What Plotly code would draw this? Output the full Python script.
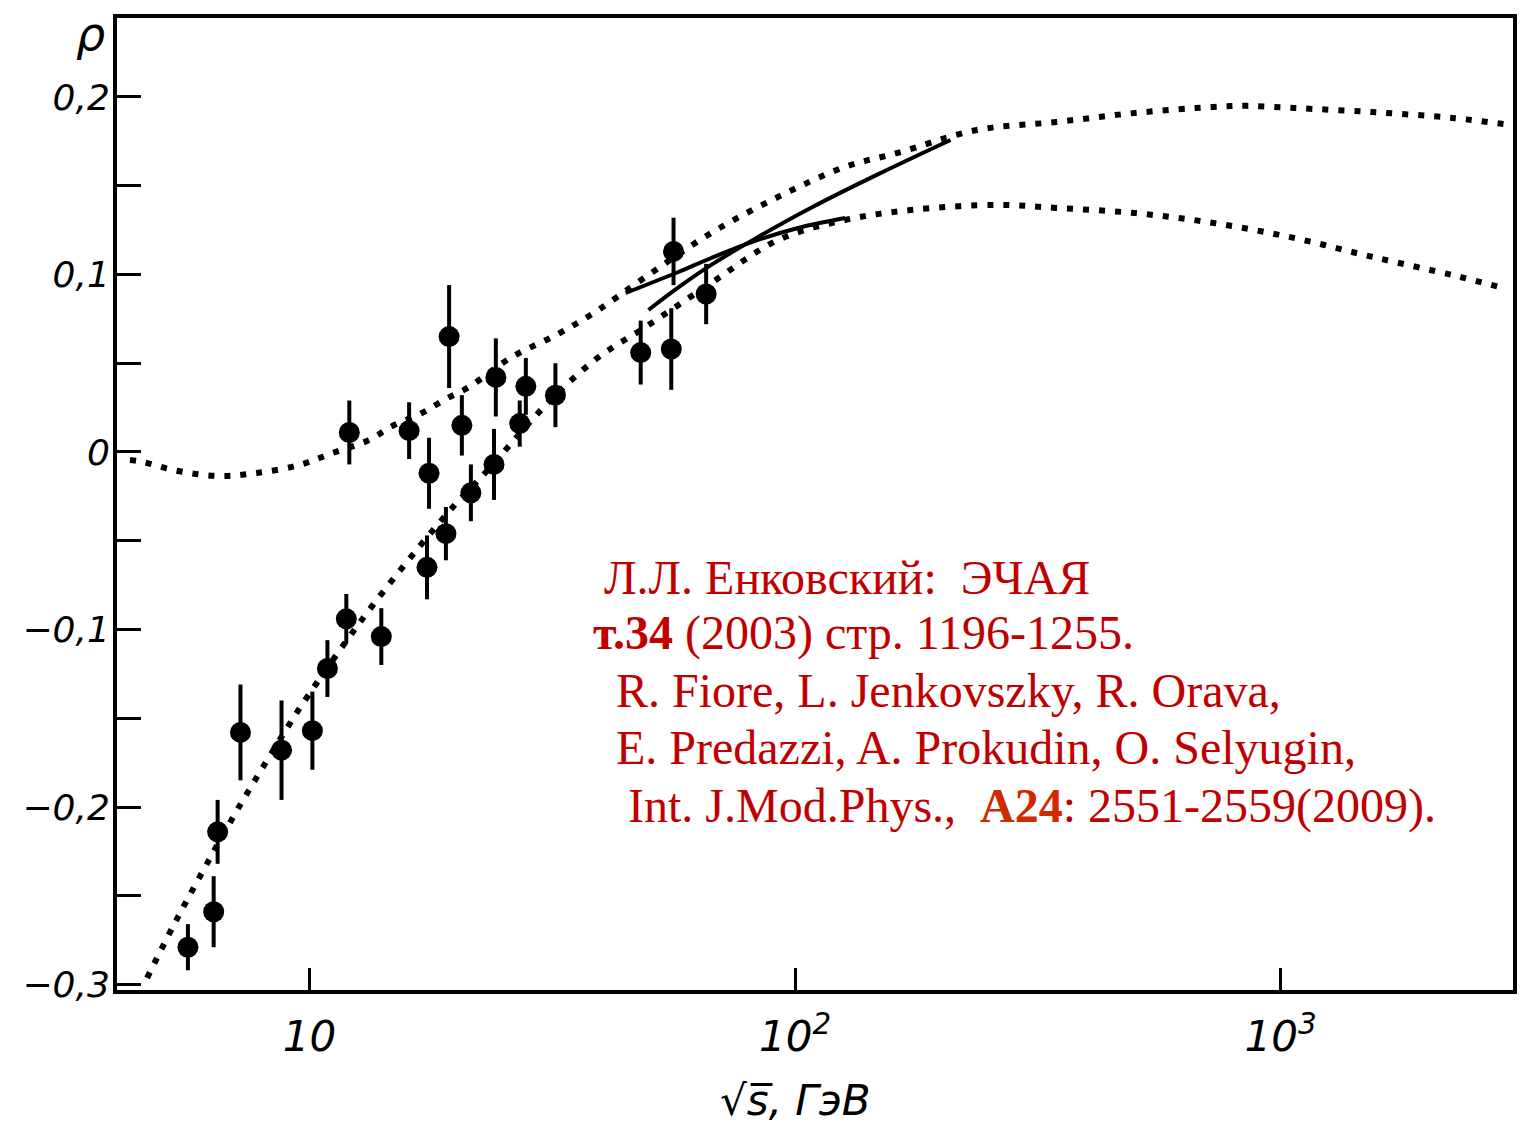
import plotly.graph_objects as go

# Measured rho = Re/Im of the forward amplitude vs sqrt(s) [GeV]
sqrt_s = [5.62, 6.35, 6.47, 7.21, 8.76, 10.14, 10.89, 11.91, 14.06, 12.08,
          16.04, 17.63, 20.6, 19.39, 23.99, 21.5, 19.1, 17.46, 27.1, 27.9,
          24.2, 32.1, 56.2, 65.6, 48.1, 55.6]
rho = [-0.279, -0.259, -0.214, -0.158, -0.168, -0.157, -0.122, -0.094, -0.104, 0.011,
       0.012, -0.012, 0.015, 0.065, -0.007, -0.023, -0.046, -0.065, 0.016, 0.037,
       0.042, 0.032, 0.113, 0.089, 0.056, 0.058]
rho_err = [0.013, 0.020, 0.018, 0.027, 0.028, 0.022, 0.016, 0.014, 0.016, 0.018,
           0.016, 0.020, 0.017, 0.029, 0.020, 0.016, 0.015, 0.018, 0.013, 0.016,
           0.022, 0.018, 0.019, 0.017, 0.018, 0.023]

# Model predictions (dotted curves)
upper_s = [4.27, 4.54, 5.23, 6.44, 7.78, 9.54, 11.15, 13.28, 14.8, 17.06, 19.1, 21.3,
           26.1, 32.2, 38.8, 49.2, 67.2, 92.3, 126.7, 162.7, 236.6, 345, 501, 728,
           847, 1064, 1545, 2255, 2980]
upper_rho = [-0.0045, -0.0056, -0.0101, -0.0135, -0.0118, -0.0073, -0.0006, 0.0068,
             0.0146, 0.022, 0.0299, 0.0366, 0.0535, 0.0659, 0.0789, 0.0986, 0.1234,
             0.1437, 0.1606, 0.1685, 0.1814, 0.1859, 0.191, 0.1944, 0.195, 0.1938,
             0.1915, 0.1882, 0.1842]
lower_s = [4.63, 5.28, 6.09, 7.18, 8.48, 9.54, 11.42, 13.46, 16.82, 20.0, 23.1,
           28.7, 32.6, 39.4, 49.2, 67.2, 92.3, 126.7, 173, 261, 345, 501, 728, 1064,
           1545, 2255, 2818]
lower_rho = [-0.2963, -0.2654, -0.2341, -0.1994, -0.1668, -0.1445, -0.1135, -0.0868,
             -0.0535, -0.0293, -0.0113, 0.018, 0.0338, 0.0535, 0.0704, 0.0952,
             0.1194, 0.1307, 0.1363, 0.1392, 0.1375, 0.1346, 0.129, 0.1206, 0.1099,
             0.0997, 0.093]

# Fits over the collider range (solid curves)
fit_a_s = [44.8, 57.5, 67.2, 82.8, 101.4, 126.7]
fit_a_rho = [0.0896, 0.1014, 0.1093, 0.1189, 0.1262, 0.1318]
fit_b_s = [49.9, 57.5, 67.2, 82.8, 107.9, 148, 209]
fit_b_rho = [0.0800, 0.0927, 0.1054, 0.1202, 0.1376, 0.1564, 0.1758]

x_ticks = [10, 100, 1000]
x_tick_text = ["10", "10<sup>2</sup>", "10<sup>3</sup>"]
y_ticks = [-0.3, -0.2, -0.1, 0.0, 0.1, 0.2]
y_tick_text = ["\u22120,3", "\u22120,2", "\u22120,1", "0", "0,1", "0,2"]
y_minor = [-0.25, -0.15, -0.05, 0.05, 0.15]

ref_lines = [
    "\u041b.\u041b. \u0415\u043d\u043a\u043e\u0432\u0441\u043a\u0438\u0439:  \u042d\u0427\u0410\u042f",
    "<b>\u0442.34</b> (2003) \u0441\u0442\u0440. 1196-1255.",
    "R. Fiore, L. Jenkovszky, R. Orava,",
    "E. Predazzi, A. Prokudin, O. Selyugin,",
    "Int. J.Mod.Phys.,  <b><span style='color:#d02a00'>A24</span></b>: 2551-2559(2009).",
]
ref_pos = [(603, 577), (592, 633), (615, 690), (615, 747), (627, 806)]

W, H = 1522, 1129
L, R, T, B = 117, 5, 18, 139
PW, PH = W - L - R, H - T - B


def px_to_paper(px, py):
    return (px - L) / PW, (H - B - py) / PH


fig = go.Figure()

dotted = dict(color="black", width=6, dash="6px,10px")
for xs, ys in ((upper_s, upper_rho), (lower_s, lower_rho)):
    fig.add_trace(go.Scatter(x=xs, y=ys, mode="lines", line=dotted,
                             line_shape="spline", hoverinfo="skip"))

solid = dict(color="black", width=4)
for xs, ys in ((fit_a_s, fit_a_rho), (fit_b_s, fit_b_rho)):
    fig.add_trace(go.Scatter(x=xs, y=ys, mode="lines", line=solid,
                             line_shape="spline", hoverinfo="skip"))

fig.add_trace(go.Scatter(
    x=sqrt_s, y=rho, mode="markers",
    marker=dict(size=21, color="black"),
    error_y=dict(type="data", array=rho_err, visible=True,
                 color="black", thickness=4, width=0),
))

axis_font = dict(family="DejaVu Sans", color="black", style="italic")

fig.update_xaxes(
    type="log", range=[0.6037, 3.4784],
    tickvals=x_ticks, ticktext=x_tick_text,
    ticks="inside", ticklen=22, tickwidth=3, tickcolor="black",
    showline=True, linewidth=4, linecolor="black", mirror=True,
    showgrid=False, zeroline=False,
    tickfont=dict(size=42, **axis_font), ticklabelstandoff=7,
)
fig.update_yaxes(
    range=[-0.3031, 0.2445],
    tickvals=y_ticks, ticktext=y_tick_text,
    ticks="inside", ticklen=24, tickwidth=3, tickcolor="black",
    minor=dict(tickvals=y_minor, ticks="inside", ticklen=24, tickwidth=3,
               tickcolor="black", showgrid=False),
    showline=True, linewidth=4, linecolor="black", mirror=True,
    showgrid=False, zeroline=False,
    tickfont=dict(size=36, **axis_font), ticklabelstandoff=-4,
)

annotations = []
for text, (px, py) in zip(ref_lines, ref_pos):
    ax, ay = px_to_paper(px, py)
    annotations.append(dict(
        text=text, xref="paper", yref="paper", x=ax, y=ay,
        xanchor="left", yanchor="middle", showarrow=False,
        font=dict(family="Liberation Serif", size=48, color="#c00000"),
    ))

rx, ry = px_to_paper(90, 34)
annotations.append(dict(text="\u03c1", xref="paper", yref="paper", x=rx, y=ry,
                        xanchor="center", yanchor="middle", showarrow=False,
                        font=dict(size=46, **axis_font)))
tx, ty = px_to_paper(797, 1100)
annotations.append(dict(text="\u221as\u0305, \u0413\u044d\u0412", xref="paper", yref="paper",
                        x=tx, y=ty, xanchor="center", yanchor="middle", showarrow=False,
                        font=dict(size=42, **axis_font)))

fig.update_layout(
    width=W, height=H,
    margin=dict(l=L, r=R, t=T, b=B),
    paper_bgcolor="white", plot_bgcolor="white",
    showlegend=False,
    annotations=annotations,
)

fig.write_html("out.html")
